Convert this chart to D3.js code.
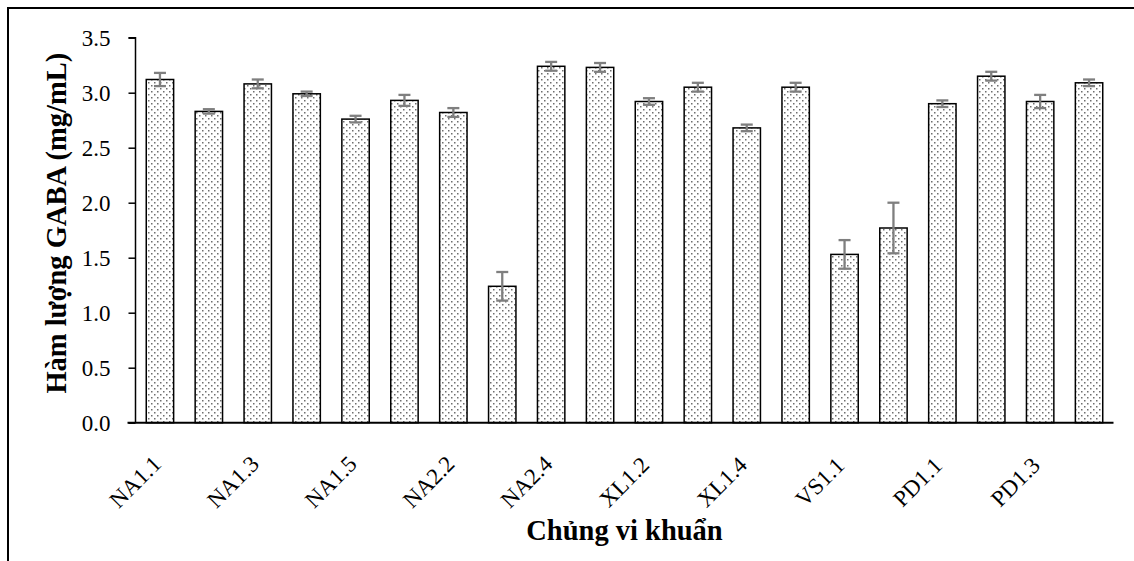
<!DOCTYPE html>
<html>
<head>
<meta charset="utf-8">
<script src="https://cdn.jsdelivr.net/npm/d3@7"></script>
<style>
  html, body { margin: 0; padding: 0; background: #fff; }
  svg { display: block; }
  text { font-family: "Liberation Serif", "Times New Roman", serif; fill: #000; }
</style>
</head>
<body>
<svg id="chart" width="1134" height="561"></svg>
<script>
// ---- data ----
const categories = ["NA1.1","NA1.2","NA1.3","NA1.4","NA1.5","NA2.1","NA2.2","NA2.3","NA2.4",
  "XL1.1","XL1.2","XL1.3","XL1.4","XL1.5","VS1.1","VS1.2","PD1.1","PD1.2","PD1.3","PD1.4"];
const values = [3.12,2.83,3.08,2.99,2.76,2.93,2.82,1.24,3.24,3.23,2.92,3.05,2.68,3.05,1.53,1.77,2.90,3.15,2.92,3.09];
const errors = [0.06,0.02,0.04,0.02,0.03,0.05,0.04,0.13,0.04,0.04,0.03,0.04,0.03,0.04,0.13,0.23,0.03,0.04,0.06,0.03];
const shownLabels = ["NA1.1","NA1.3","NA1.5","NA2.2","NA2.4","XL1.2","XL1.4","VS1.1","PD1.1","PD1.3"];
const yTicks = [0,0.5,1.0,1.5,2.0,2.5,3.0,3.5];
const yTitle = "Hàm lượng GABA (mg/mL)";
const xTitle = "Chủng vi khuẩn";

const svg = d3.select("#chart");

// outer frame
svg.append("rect").attr("x", 8).attr("y", 8).attr("width", 1140).attr("height", 570)
  .attr("fill", "none").attr("stroke", "#000").attr("stroke-width", 2);

// dotted pattern
const defs = svg.append("defs");
const pat = defs.append("pattern").attr("id", "dots").attr("patternUnits", "userSpaceOnUse")
  .attr("width", 6).attr("height", 6);
pat.append("rect").attr("width", 6).attr("height", 6).attr("fill", "#fff");
pat.append("rect").attr("x", 1).attr("y", 1).attr("width", 1.5).attr("height", 1.5).attr("fill", "#6e6e6e");
pat.append("rect").attr("x", 4).attr("y", 4).attr("width", 1.5).attr("height", 1.5).attr("fill", "#6e6e6e");

const pLeft = 135.5, pRight = 1113.5, pTop = 37.7, pBottom = 422.7;

const x = d3.scaleBand().domain(categories).range([pLeft, pRight]).paddingInner(0.44).paddingOuter(0.22);
const y = d3.scaleLinear().domain([0, 3.5]).range([pBottom, pTop]);

// bars
svg.append("g").selectAll("rect").data(categories).join("rect")
  .attr("x", d => x(d))
  .attr("y", (d, i) => y(values[i]))
  .attr("width", x.bandwidth())
  .attr("height", (d, i) => y(0) - y(values[i]))
  .attr("fill", "url(#dots)")
  .attr("stroke", "#000").attr("stroke-width", 1.5);

// error bars
const eg = svg.append("g").attr("stroke", "#7f7f7f").attr("stroke-width", 2.3);
categories.forEach((c, i) => {
  const cx = x(c) + x.bandwidth() / 2;
  const y1 = y(values[i] + errors[i]), y2 = y(values[i] - errors[i]);
  eg.append("line").attr("x1", cx).attr("x2", cx).attr("y1", y1).attr("y2", y2);
  eg.append("line").attr("x1", cx - 6).attr("x2", cx + 6).attr("y1", y1).attr("y2", y1);
  eg.append("line").attr("x1", cx - 6).attr("x2", cx + 6).attr("y1", y2).attr("y2", y2);
});

// y axis
const yAxis = d3.axisLeft(y).tickValues(yTicks).tickFormat(d3.format(".1f")).tickSize(7).tickPadding(18);
const yg = svg.append("g").attr("transform", `translate(${pLeft},0)`).call(yAxis);
yg.select(".domain").attr("stroke", "#000").attr("stroke-width", 1.5).attr("d", `M-7,${pTop}H0V${pBottom}`);
yg.selectAll(".tick line").attr("stroke", "#000").attr("stroke-width", 1.5);
yg.selectAll(".tick text").attr("font-size", 23).attr("font-family", "Liberation Serif").attr("fill", "#000");

// x axis line
svg.append("line").attr("x1", pLeft - 8).attr("x2", pRight).attr("y1", pBottom).attr("y2", pBottom)
  .attr("stroke", "#000").attr("stroke-width", 2);

// x labels: rotated -45deg, centred on the label's visual centre
const xl = svg.append("g");
shownLabels.forEach(lab => {
  const cx = x(lab) + x.bandwidth() / 2;
  xl.append("text")
    .attr("transform", `translate(${cx - 25},${pBottom + 59}) rotate(-45)`)
    .attr("text-anchor", "middle").attr("dy", "0.35em").attr("font-size", 23).text(lab);
});

// titles
svg.append("text").attr("x", (pLeft + pRight) / 2).attr("y", 540)
  .attr("text-anchor", "middle").attr("font-weight", "bold").attr("font-size", 28.5)
  .text(xTitle);
svg.append("g").attr("transform", `translate(66,${(pTop + pBottom) / 2 - 7}) rotate(-90)`)
  .append("text").attr("text-anchor", "middle").attr("font-weight", "bold").attr("font-size", 28.5)
  .text(yTitle);
</script>
</body>
</html>
